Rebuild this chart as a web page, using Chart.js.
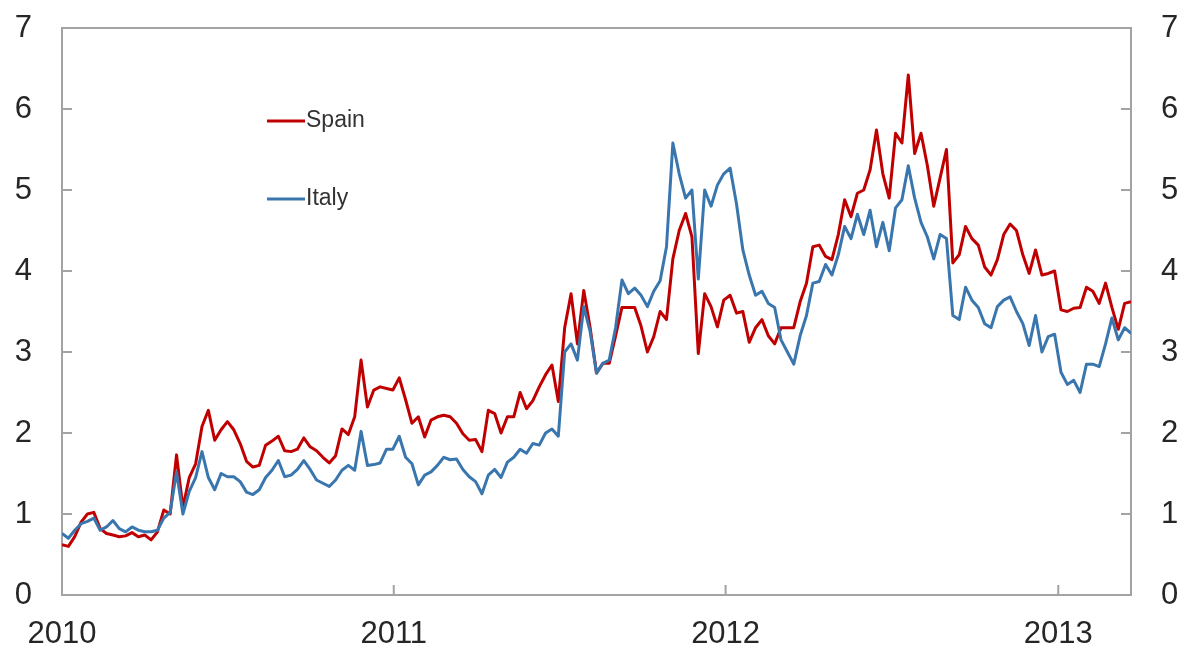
<!DOCTYPE html>
<html>
<head>
<meta charset="utf-8">
<script src="https://cdn.jsdelivr.net/npm/chart.js"></script>
<style>
  html, body { margin: 0; padding: 0; background: #fff; }
  #wrap { width: 1184px; height: 647px; }
</style>
</head>
<body>
<div id="wrap"><canvas id="chart"></canvas></div>
<script>
// weekly readings, first week of Jan 2010 onward (per cent)
const spain = [
  0.62, 0.60, 0.72, 0.90, 1.00, 1.02, 0.82, 0.76, 0.74, 0.72,
  0.73, 0.77, 0.72, 0.74, 0.68, 0.78, 1.05, 1.00, 1.73, 1.08,
  1.45, 1.62, 2.08, 2.28, 1.91, 2.04, 2.14, 2.04, 1.87, 1.65,
  1.58, 1.60, 1.85, 1.90, 1.96, 1.78, 1.77, 1.80, 1.94, 1.83,
  1.78, 1.70, 1.63, 1.72, 2.05, 1.98, 2.20, 2.90, 2.32, 2.53,
  2.57, 2.55, 2.53, 2.68, 2.41, 2.12, 2.20, 1.95, 2.16, 2.20,
  2.22, 2.20, 2.12, 1.99, 1.91, 1.92, 1.77, 2.28, 2.24, 2.00,
  2.20, 2.20, 2.50, 2.30, 2.40, 2.57, 2.72, 2.84, 2.39, 3.30,
  3.72, 3.10, 3.76, 3.30, 2.74, 2.86, 2.86, 3.20, 3.55, 3.55,
  3.55, 3.32, 3.00, 3.19, 3.50, 3.40, 4.15, 4.50, 4.71, 4.42,
  2.98, 3.72, 3.56, 3.31, 3.64, 3.70, 3.48, 3.50, 3.12, 3.30,
  3.40, 3.20, 3.10, 3.30, 3.30, 3.30, 3.62, 3.85, 4.30, 4.32,
  4.18, 4.14, 4.45, 4.88, 4.67, 4.96, 5.00, 5.25, 5.74, 5.20,
  4.90, 5.70, 5.58, 6.42, 5.45, 5.70, 5.30, 4.80, 5.15, 5.50,
  4.10, 4.20, 4.55, 4.40, 4.32, 4.05, 3.95, 4.14, 4.45, 4.58,
  4.50, 4.20, 3.97, 4.26, 3.95, 3.97, 4.00, 3.52, 3.50, 3.54,
  3.55, 3.80, 3.75, 3.60, 3.85, 3.55, 3.28, 3.60, 3.62
];
const italy = [
  0.76, 0.70, 0.80, 0.88, 0.91, 0.95, 0.80, 0.84, 0.92, 0.82,
  0.78, 0.84, 0.80, 0.78, 0.78, 0.80, 0.95, 1.02, 1.52, 1.00,
  1.28, 1.45, 1.77, 1.45, 1.30, 1.50, 1.46, 1.46, 1.40, 1.27,
  1.24, 1.30, 1.45, 1.54, 1.66, 1.46, 1.48, 1.55, 1.66, 1.55,
  1.42, 1.38, 1.34, 1.42, 1.54, 1.60, 1.54, 2.02, 1.60, 1.61,
  1.63, 1.80, 1.80, 1.96, 1.70, 1.62, 1.36, 1.48, 1.52, 1.60,
  1.70, 1.67, 1.68, 1.55, 1.46, 1.40, 1.25, 1.48, 1.55, 1.45,
  1.64, 1.70, 1.80, 1.75, 1.87, 1.85, 2.00, 2.05, 1.96, 3.00,
  3.10, 2.90, 3.56, 3.25, 2.74, 2.86, 2.90, 3.30, 3.89, 3.72,
  3.79, 3.70, 3.56, 3.75, 3.88, 4.30, 5.58, 5.20, 4.90, 5.00,
  3.90, 5.00, 4.80, 5.06, 5.20, 5.27, 4.83, 4.26, 3.95, 3.70,
  3.75, 3.60, 3.55, 3.15, 3.00, 2.85, 3.20, 3.45, 3.85, 3.87,
  4.08, 3.95, 4.20, 4.55, 4.40, 4.70, 4.45, 4.75, 4.30, 4.60,
  4.25, 4.78, 4.88, 5.30, 4.90, 4.60, 4.42, 4.15, 4.45, 4.40,
  3.45, 3.40, 3.80, 3.64, 3.55, 3.35, 3.30, 3.56, 3.64, 3.68,
  3.50, 3.35, 3.08, 3.45, 3.00, 3.19, 3.22, 2.75, 2.60, 2.65,
  2.50, 2.85, 2.85, 2.82, 3.10, 3.42, 3.15, 3.30, 3.23
];
const years = ['2010', '2011', '2012', '2013'];
const yearStarts = [0, 52.14, 104.29, 156.57]; // in weeks from 1 Jan 2010
const lastWeek = 168;

const RED = '#c00000';
const BLUE = '#3a76ae';
const FONT = '"Liberation Sans", Arial, sans-serif';
const TEXT = '#262626';
const FRAME = '#a3a3a3';

const toPoints = arr => arr.map((v, i) => ({ x: i, y: v }));

// box round the plot, inward tick marks and the legend
const frame = {
  id: 'frame',
  beforeDatasetsDraw(chart) {
    const { ctx, chartArea: a, scales } = chart;
    ctx.save();
    ctx.strokeStyle = FRAME;
    ctx.lineWidth = 2;
    ctx.strokeRect(a.left, a.top, a.right - a.left, a.bottom - a.top);
    ctx.beginPath();
    for (let v = 1; v < 7; v++) {
      const y = scales.y.getPixelForValue(v);
      ctx.moveTo(a.left, y); ctx.lineTo(a.left + 10, y);
      ctx.moveTo(a.right, y); ctx.lineTo(a.right - 10, y);
    }
    yearStarts.slice(1).forEach(w => {
      const x = scales.x.getPixelForValue(w);
      ctx.moveTo(x, a.bottom); ctx.lineTo(x, a.bottom - 10);
    });
    ctx.stroke();
    ctx.restore();
  },
  afterDatasetsDraw(chart) {
    const { ctx, chartArea: a } = chart;
    const items = [['Spain', RED, 93], ['Italy', BLUE, 171]];
    ctx.save();
    ctx.font = '23px ' + FONT;
    ctx.textBaseline = 'middle';
    items.forEach(([name, col, dy]) => {
      const x = a.left + 205, y = a.top + dy;
      ctx.strokeStyle = col;
      ctx.lineWidth = 3;
      ctx.beginPath();
      ctx.moveTo(x, y); ctx.lineTo(x + 38, y);
      ctx.stroke();
      ctx.fillStyle = '#333';
      ctx.fillText(name, x + 39, y);
    });
    ctx.restore();
  }
};

const yearTicks = scale => {
  scale.ticks = yearStarts.map(v => ({ value: v }));
};

// fixed axis sizes, and no extra room for the label overhang
const fixWidth = w => s => {
  s.width = w;
  s.paddingTop = 0;
  s.paddingBottom = 0;
};

new Chart(document.getElementById('chart'), {
  type: 'line',
  data: {
    datasets: [
      { label: 'Italy', data: toPoints(italy), borderColor: BLUE },
      { label: 'Spain', data: toPoints(spain), borderColor: RED }
    ]
  },
  options: {
    responsive: true,
    maintainAspectRatio: false,
    animation: false,
    layout: { padding: { top: 28, left: 0, right: 0, bottom: 0 } },
    elements: {
      line: { borderWidth: 3, tension: 0, borderJoinStyle: 'round' },
      point: { radius: 0 }
    },
    plugins: { legend: { display: false }, tooltip: { enabled: false } },
    scales: {
      x: {
        type: 'linear',
        min: 0,
        max: lastWeek,
        afterBuildTicks: yearTicks,
        afterFit: s => { s.height = 52; },
        grid: { display: false, drawTicks: false },
        border: { display: false },
        ticks: {
          padding: 21,
          maxRotation: 0,
          autoSkip: false,
          color: TEXT,
          font: { family: FONT, size: 31 },
          callback: (v, i) => years[i]
        }
      },
      y: {
        position: 'left',
        min: 0,
        max: 7,
        afterFit: fixWidth(62),
        grid: { display: false, drawTicks: false },
        border: { display: false },
        ticks: { stepSize: 1, padding: 30, color: TEXT, font: { family: FONT, size: 31 } }
      },
      y2: {
        position: 'right',
        min: 0,
        max: 7,
        afterFit: fixWidth(53),
        grid: { display: false, drawTicks: false },
        border: { display: false },
        ticks: { stepSize: 1, padding: 30, color: TEXT, font: { family: FONT, size: 31 } }
      }
    }
  },
  plugins: [frame]
});
</script>
</body>
</html>
